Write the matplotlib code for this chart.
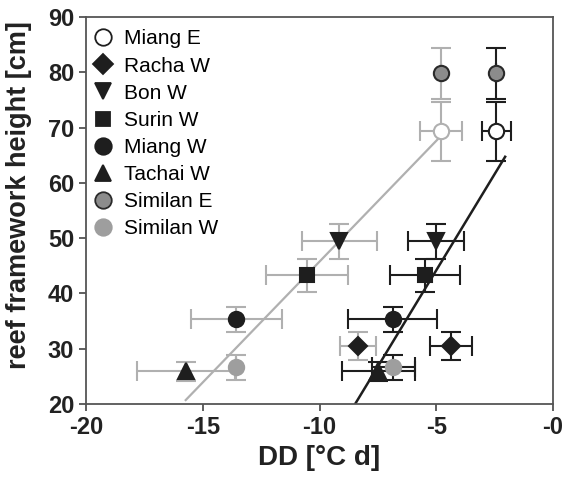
import matplotlib
matplotlib.use("Agg")
import matplotlib.pyplot as plt
import numpy as np

plt.rcParams['font.family'] = ['Liberation Sans', 'DejaVu Sans']

# ── data ──
sites = ["Miang E", "Racha W", "Bon W", "Surin W", "Miang W", "Tachai W", "Similan E", "Similan W"]
height = [69.3, 30.5, 49.4, 43.3, 35.3, 25.9, 79.8, 26.6]
height_err = [5.3, 2.6, 3.1, 3.0, 2.2, 1.7, 4.6, 2.3]

# light grey series (left) and black series (right)
dd_grey = [-4.8, -8.36, -9.15, -10.54, -13.56, -15.7, -4.8, -13.56]
dd_grey_err = [0.9, 0.77, 1.6, 1.75, 1.95, 2.1, 0.0, 0.0]
dd_black = [-2.42, -4.35, -5.0, -5.48, -6.87, -7.48, -2.42, -6.84]
dd_black_err = [0.63, 0.9, 1.2, 1.5, 1.9, 1.57, 0.0, 0.93]

# linear fits (slope, intercept, x range)
fit_grey = (4.37, 89.45, -15.73, -4.8)
fit_black = (6.96, 78.98, -8.46, -2.05)

xticks = [-20, -15, -10, -5, 0]
xticklabels = ["-20", "-15", "-10", "-5", "-0"]
yticks = [20, 30, 40, 50, 60, 70, 80, 90]

# marker styles per site: (marker, face, edge)
styles = {
    "Miang E":   ("o", "white", None),
    "Racha W":   ("D", "#1e1e1e", "#1e1e1e"),
    "Bon W":     ("v", "#1e1e1e", "#1e1e1e"),
    "Surin W":   ("s", "#1e1e1e", "#1e1e1e"),
    "Miang W":   ("o", "#1e1e1e", "#1e1e1e"),
    "Tachai W":  ("^", "#1e1e1e", "#1e1e1e"),
    "Similan E": ("o", "#8c8c8c", "#2a2a2a"),
    "Similan W": ("o", "#9e9e9e", "#9e9e9e"),
}
sizes = {"o": 11, "D": 9, "v": 11, "s": 9.5, "^": 11}

GREY = "#b0b0b0"
BLACK = "#1e1e1e"

fig = plt.figure(figsize=(5.64, 4.79), dpi=100)
ax = fig.add_axes([0.1525, 0.1566, 0.828, 0.808])

# regression lines
for slope, icpt, x0, x1, col, lw in [(*fit_grey, GREY, 1.6), (*fit_black, BLACK, 1.8)]:
    xs = np.array([x0, x1])
    ax.plot(xs, slope * xs + icpt, color=col, lw=lw, zorder=2)

for xs, xe, ecol in [(dd_grey, dd_grey_err, GREY), (dd_black, dd_black_err, BLACK)]:
    ax.errorbar(xs, height, xerr=xe, yerr=height_err, fmt="none", ecolor=ecol,
                elinewidth=1.5, capsize=7, capthick=1.5, zorder=3)
    for i, s in enumerate(sites):
        m, fc, ec = styles[s]
        if ec is None:
            ec = ecol
        ax.plot(xs[i], height[i], marker=m, ms=sizes[m], mfc=fc, mec=ec, mew=1.5,
                ls="none", zorder=4)

# legend handles
handles = []
for s in sites:
    m, fc, ec = styles[s]
    if ec is None:
        ec = BLACK
    h, = ax.plot([], [], marker=m, ms=sizes[m] * 1.08, mfc=fc, mec=ec, mew=1.3, ls="none", label=s)
    handles.append(h)
ax.legend(handles=handles, loc="upper left", bbox_to_anchor=(-0.015, 1.0), frameon=False,
          fontsize=15, handletextpad=0.45, labelspacing=0.39, borderaxespad=0.3,
          handlelength=1.1, borderpad=0.3)

ax.set_xlim(-20, 0)
ax.set_ylim(20, 90)
ax.set_xticks(xticks)
ax.set_xticklabels(xticklabels)
ax.set_yticks(yticks)
ax.tick_params(labelsize=17, length=5, width=1.2, color="#444444", pad=3.5)
for lab in ax.get_xticklabels() + ax.get_yticklabels():
    lab.set_fontweight("bold")
    lab.set_color("#222222")
for sp in ax.spines.values():
    sp.set_color("#555555")
    sp.set_linewidth(1.3)

ax.set_xlabel("DD [°C d]", fontsize=20, fontweight="bold", color="#222222")
ax.set_ylabel("reef framework height [cm]", fontsize=19.5, fontweight="bold", color="#222222")
ax.xaxis.set_label_coords(0.5, -0.105)
ax.yaxis.set_label_coords(-0.115, 0.54)

fig.savefig("out.png", dpi=100)
